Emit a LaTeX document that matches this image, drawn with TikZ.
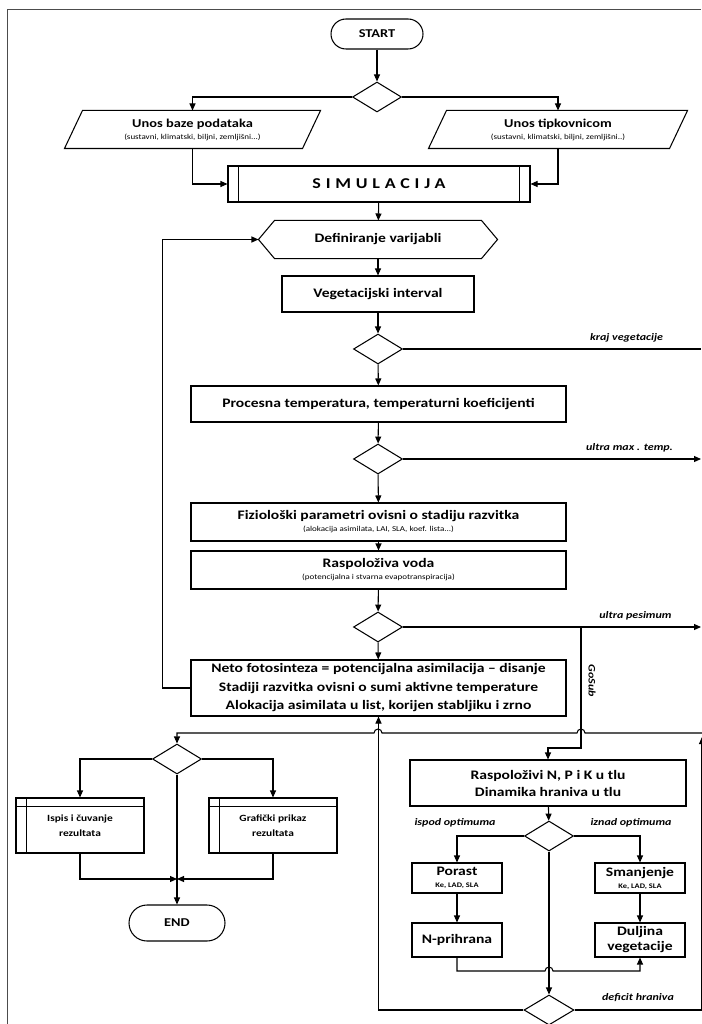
\documentclass[tikz,border=0pt]{standalone}
\usepackage{fontspec}
\setmainfont{Carlito}[FakeStretch=1.2]
\usetikzlibrary{shapes.geometric, positioning, arrows.meta}
\newcommand{\subtxt}[1]{{\mdseries\fontsize{7.5}{9}\selectfont #1}}
\newcommand{\keytxt}[1]{{\fontsize{7}{9}\selectfont #1}}

\begin{document}
\begin{tikzpicture}[x=1pt, y=-1pt, >={Triangle[length=7pt,width=6pt]},
                line width=1.05pt, font=\bfseries\fontsize{13}{16}\selectfont]

    % Define the styles for the blocks
    \tikzset{term/.style={draw, rectangle, rounded corners=15pt, minimum width=92pt, minimum height=30pt, inner sep=0pt},
             decide/.style={draw, diamond, minimum width=49pt, minimum height=30pt, inner sep=0pt},
             proc/.style={draw, rectangle, align=center, inner sep=0pt},
             blank/.style={rectangle, align=center, inner sep=0pt},
             note/.style={font=\bfseries\itshape\fontsize{10}{12}\selectfont}}

    \useasboundingbox (0,0) rectangle (701,1024);
    \draw[line width=0.8pt, black!70] (7,1024) -- (7,9.5) -- (701,9.5);

    % Nodes
    \node[term] (start) at (377,34) {\fontsize{12}{14}\selectfont START};
    \node[decide] (d1) at (377,97) {};
    \node[blank, minimum width=237pt, minimum height=37pt] (db) at (192.5,129.5)
        {\fontsize{12}{14}\selectfont Unos baze podataka\\[-4pt]\subtxt{(sustavni, klimatski, biljni, zemljišni...)}};
    \node[blank, minimum width=240pt, minimum height=37pt] (kb) at (558,129.5)
        {\fontsize{12}{14}\selectfont Unos tipkovnicom\\[-4pt]\subtxt{(sustavni, klimatski, biljni, zemljišni..)}};
    \node[proc, minimum width=302pt, minimum height=36pt] (sim) at (379,184)
        {\fontsize{15}{18}\selectfont\addfontfeature{LetterSpace=32}SIMULACIJA};
    \node[blank, minimum width=238pt, minimum height=37pt] (defvar) at (378,239.5) {Definiranje varijabli};
    \node[proc, minimum width=192pt, minimum height=36pt] (vegint) at (378,294) {Vegetacijski interval};
    \node[decide] (d2) at (378,349) {};
    \node[proc, minimum width=375pt, minimum height=36pt] (temp) at (378.5,404)
        {Procesna temperatura, temperaturni koeficijenti};
    \node[decide] (d3) at (378,459) {};
    \node[proc, minimum width=375pt, minimum height=38pt] (fizio) at (378.5,522)
        {Fiziološki parametri ovisni o stadiju razvitka\\[-4pt]\subtxt{(alokacija asimilata, LAI, SLA, koef. lista...)}};
    \node[proc, minimum width=375pt, minimum height=38pt] (voda) at (378.5,570)
        {Raspoloživa voda\\[-4pt]\subtxt{(potencijalna i stvarna evapotranspiracija)}};
    \node[decide] (d4) at (378,627) {};
    \node[proc, minimum width=375pt, minimum height=56pt, font=\bfseries\fontsize{13}{18.5}\selectfont] (neto) at (378.5,688)
        {Neto fotosinteza = potencijalna asimilacija – disanje\\Stadiji razvitka ovisni o sumi aktivne temperature\\Alokacija asimilata u list, korijen stabljiku i zrno};

    \node[decide] (d5) at (177,759) {};
    \node[proc, minimum width=128pt, minimum height=55pt, font=\bfseries\fontsize{9.5}{15}\selectfont] (ispis) at (80,825.5)
        {Ispis i čuvanje\\rezultata};
    \node[proc, minimum width=128pt, minimum height=55pt, font=\bfseries\fontsize{9.5}{15}\selectfont] (graf) at (273,825.5)
        {Grafički prikaz\\rezultata};
    \node[term, minimum width=96pt, minimum height=36pt, rounded corners=18pt] (finish) at (177,923)
        {\fontsize{12}{14}\selectfont END};
    \coordinate (join) at (177,879);

    \node[proc, minimum width=276pt, minimum height=46pt, font=\bfseries\fontsize{13}{17}\selectfont] (npk) at (548,783)
        {Raspoloživi N, P i K u tlu\\Dinamika hraniva u tlu};
    \node[decide] (d6) at (549,836) {};
    \node[proc, minimum width=90pt, minimum height=30pt] (porast) at (457,878)
        {Porast\\[-4pt]\keytxt{Ke, LAD, SLA}};
    \node[proc, minimum width=90pt, minimum height=30pt] (smanj) at (640,878)
        {Smanjenje\\[-4pt]\keytxt{Ke, LAD, SLA}};
    \node[proc, minimum width=90pt, minimum height=34pt] (nprih) at (457,940) {N-prihrana};
    \node[proc, minimum width=90pt, minimum height=34pt] (dulj) at (640,940) {Duljina\\[-1pt]vegetacije};
    \node[decide, minimum width=50pt] (d7) at (549,1010) {};

    % Shape outlines
    \foreach \n in {db,kb}
        \draw ([xshift=9pt]\n.north west) -- ([xshift=9pt]\n.north east)
              -- ([xshift=-9pt]\n.south east) -- ([xshift=-9pt]\n.south west) -- cycle;
    \draw (defvar.west) -- ([xshift=16pt]defvar.north west) -- ([xshift=-16pt]defvar.north east)
          -- (defvar.east) -- ([xshift=-16pt]defvar.south east) -- ([xshift=16pt]defvar.south west) -- cycle;
    \draw ([xshift=11pt]sim.north west) -- ([xshift=11pt]sim.south west);
    \draw ([xshift=-11pt]sim.north east) -- ([xshift=-11pt]sim.south east);
    \foreach \n in {ispis,graf} {
        \draw ([xshift=11pt]\n.north west) -- ([xshift=11pt]\n.south west);
        \draw ([yshift=-9pt]\n.north west) -- ([yshift=-9pt]\n.north east);
    }

    % Exits to the right
    \coordinate (exkraj) at (701,349);
    \coordinate (exmax) at (701,459);
    \coordinate (expes) at (701,627);
    \coordinate (gosub) at (581,627);
    \coordinate (back) at (704,733);
    \coordinate (backup) at (702,737);

    % Paths
    \draw[->] (start) -- (d1);
    \draw[->] (d1.west) -| (db.north);
    \draw[->] (d1.east) -| (kb.north);
    \draw[->] (db.south) |- (sim.west);
    \draw[->] (kb.south) |- (sim.east);
    \draw[->] (sim) -- (defvar);
    \draw[->] (defvar) -- (vegint);
    \draw[->] (vegint) -- (d2);
    \draw[->] (d2) -- (temp);
    \draw[->] (temp) -- (d3);
    \draw[->] (d3) -- (fizio);
    \draw[->] (fizio) -- (voda);
    \draw[->] (voda) -- (d4);
    \draw[->] (d4) -- (neto);
    \draw[->] (neto.west) -- ++(-28,0) |- (defvar.west);

    \draw (d2.east) -- (exkraj) node[note, pos=0.75, above=3pt] {kraj vegetacije};
    \draw[->] (d3.east) -- (exmax) node[note, pos=0.76, above=3pt] {ultra max . temp.};
    \draw[->] (d4.east) -- (expes) node[note, pos=0.78, above=3pt] {ultra pesimum};
    \draw[->] (gosub) -- (581,748) -| (npk.north);
    \node[note, rotate=-90] (gosubtxt) at (592,681) {GoSub};

    \draw[->] (back) -- (585,733) arc[start angle=0, end angle=180, radius=4pt]
              -- (382,733) arc[start angle=0, end angle=180, radius=4pt]
              -- (177,733) -- (d5.north);
    \draw[->] (d5.west) -| (ispis.north);
    \draw[->] (d5.east) -| (graf.north);
    \draw[->] (d5.south) -- (finish.north);
    \draw[->] (ispis.south) |- (join);
    \draw[->] (graf.south) |- (join);

    \draw[->] (npk) -- (d6);
    \draw[->] (d6.west) -| (porast.north);
    \draw[->] (d6.east) -| (smanj.north);
    \node[note] (ispod) at (455,823) {ispod optimuma};
    \node[note] (iznad) at (631,823) {iznad optimuma};
    \draw[->] (porast) -- (nprih);
    \draw[->] (smanj) -- (dulj);
    \draw[->] (nprih.south) |- (545,971) arc[start angle=180, end angle=0, radius=4pt] -| (dulj.south);
    \draw[->] (d6.south) -- (d7.north);
    \draw[->] (d7.west) -| (neto.south);
    \draw[->] (d7.east) -| (backup);
    \node[note] (deficit) at (638,998) {deficit hraniva};
\end{tikzpicture}
\end{document}
